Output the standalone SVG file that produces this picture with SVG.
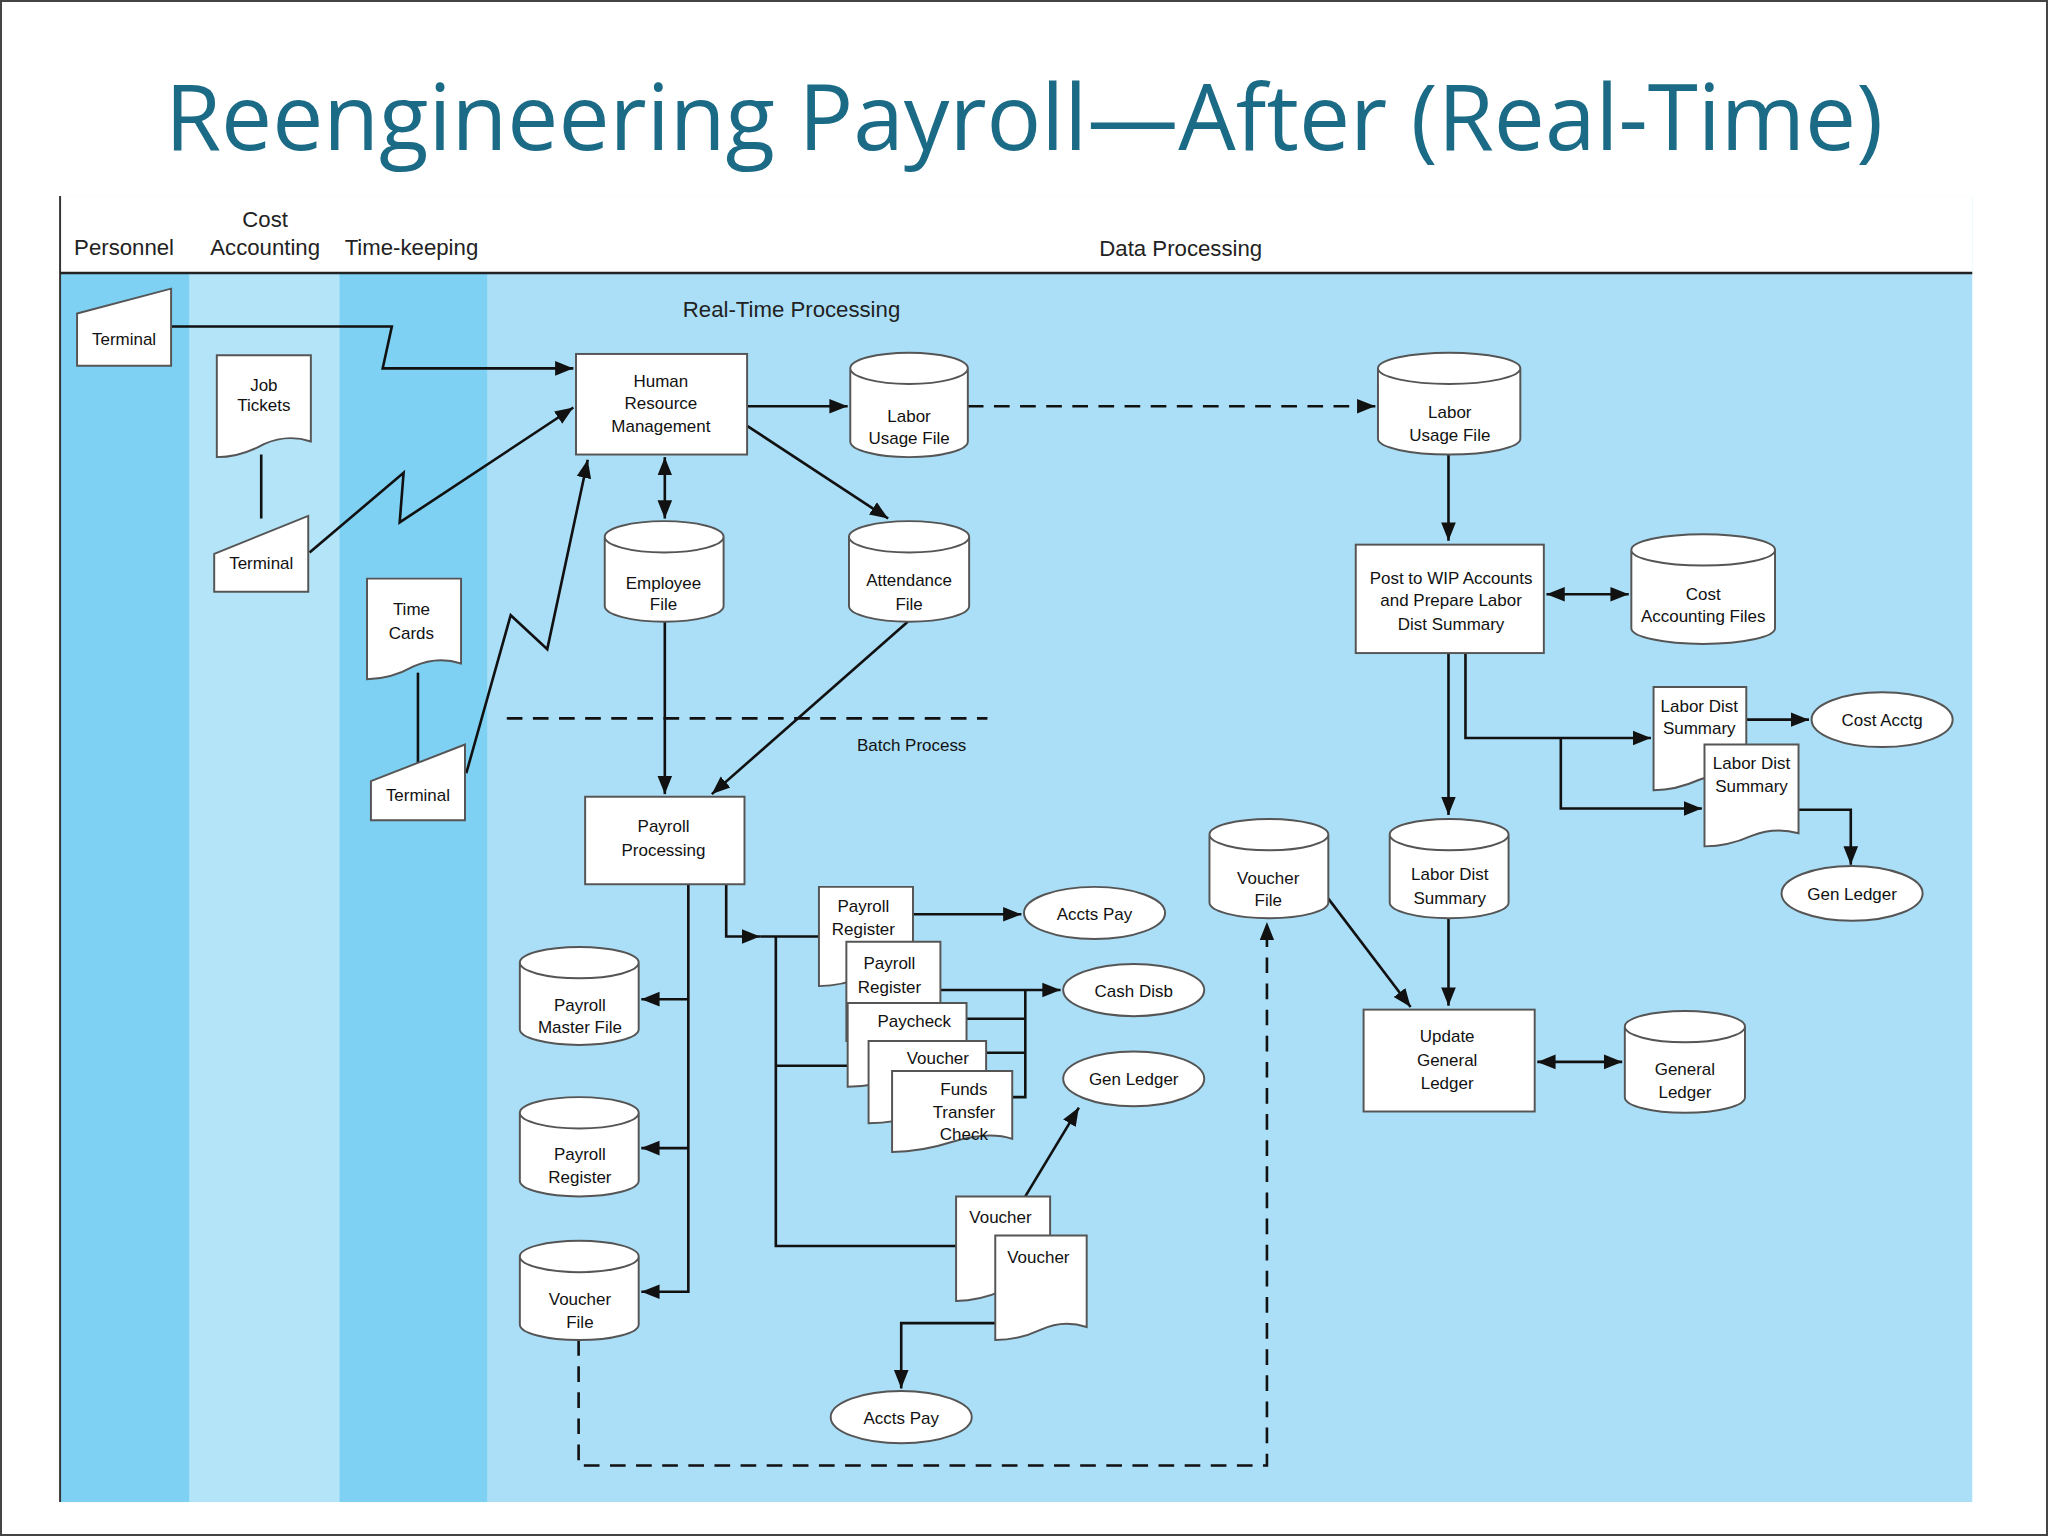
<svg xmlns="http://www.w3.org/2000/svg" width="2048" height="1536" viewBox="0 0 2048 1536">
<defs>
<marker id="a" viewBox="0 0 10 10" refX="10" refY="5" markerWidth="7" markerHeight="7" orient="auto-start-reverse"><path d="M0,1 L10,5 L0,9 z" fill="#111"/></marker>
<style>
text{font-family:"Liberation Sans",Arial,sans-serif;fill:#111}
.t{font-size:13px;text-anchor:middle}
.h{font-size:17px;text-anchor:middle;fill:#222}
.s{fill:#fff;stroke:#555;stroke-width:1.5}
.c{fill:none;stroke:#111;stroke-width:2}
.ar{marker-end:url(#a)}
.bi{marker-start:url(#a);marker-end:url(#a)}
.d{stroke-dasharray:12 8}
</style>
</defs>
<rect x="1" y="1" width="2046" height="1534" fill="#fff" stroke="#444" stroke-width="2"/>
<text x="1024" y="150" font-size="91" text-anchor="middle" style="fill:#1b6a86;font-family:'Open Sans','Liberation Sans',sans-serif">Reengineering Payroll—After (Real-Time)</text>
<g transform="scale(1.30612)">
<rect x="46" y="150" width="1464" height="1000" fill="#abdff7"/>
<rect x="46" y="150" width="1464" height="59" fill="#fff"/>
<rect x="46" y="209" width="99" height="941" fill="#7fd1f3"/>
<rect x="145" y="209" width="115" height="941" fill="#b3e4f8"/>
<rect x="260" y="209" width="113" height="941" fill="#7fd1f3"/>
<line x1="46" y1="150" x2="46" y2="1150" stroke="#333" stroke-width="1.5"/>
<line x1="46" y1="209" x2="1510" y2="209" stroke="#222" stroke-width="2"/>
<text class="h" x="95" y="195">Personnel</text>
<text class="h" x="203" y="174">Cost</text>
<text class="h" x="203" y="195">Accounting</text>
<text class="h" x="315" y="195">Time-keeping</text>
<text class="h" x="904" y="196">Data Processing</text>
<text class="h" x="606" y="243">Real-Time Processing</text>
<line x1="388" y1="550" x2="756" y2="550" class="c d"/>
<text class="t" x="698" y="575">Batch Process</text>

<g id="connectors">
<polyline class="c ar" points="131,250 300,250 293,282 439,282"/>
<polyline class="c ar" points="237,423 309,362 306,400 439,312"/>
<polyline class="c ar" points="357,592 391,471 419,497 450,352"/>
<line class="c" x1="200" y1="348" x2="200" y2="397"/>
<line class="c" x1="320" y1="515" x2="320" y2="585"/>
<line class="c ar" x1="572" y1="311" x2="649" y2="311"/>
<line class="c ar d" x1="741" y1="311" x2="1053" y2="311"/>
<line class="c bi" x1="509" y1="350" x2="509" y2="397"/>
<line class="c ar" x1="572" y1="326" x2="680" y2="397"/>
<line class="c ar" x1="509" y1="476" x2="509" y2="608"/>
<line class="c ar" x1="695" y1="476" x2="545" y2="608"/>
<polyline class="c" points="527,677 527,990"/>
<line class="c ar" x1="527" y1="765" x2="491" y2="765"/>
<line class="c ar" x1="527" y1="879" x2="491" y2="879"/>
<line class="c ar" x1="527" y1="989" x2="491" y2="989"/>
<polyline class="c ar" points="556,677 556,717 582,717"/>
<polyline class="c" points="582,717 627,717"/>
<polyline class="c" points="594,717 594,954 732,954"/>
<line class="c" x1="594" y1="816" x2="665" y2="816"/>
<line class="c ar" x1="699" y1="700" x2="782" y2="700"/>
<line class="c ar" x1="720" y1="758" x2="812" y2="758"/>
<polyline class="c" points="740,780 785,780"/>
<polyline class="c" points="755,806 785,806"/>
<polyline class="c" points="775,840 785,840 785,758"/>
<line class="c ar" x1="785" y1="916" x2="826" y2="848"/>
<polyline class="c ar" points="762,1013 690,1013 690,1063"/>
<polyline class="c ar d" points="443,1026 443,1122 970,1122 970,706"/>
<line class="c ar" x1="1017" y1="688" x2="1080" y2="771"/>
<line class="c ar" x1="1109" y1="348" x2="1109" y2="414"/>
<line class="c bi" x1="1184" y1="455" x2="1247" y2="455"/>
<line class="c ar" x1="1109" y1="500" x2="1109" y2="624"/>
<polyline class="c ar" points="1122,500 1122,565 1264,565"/>
<polyline class="c ar" points="1195,565 1195,619 1303,619"/>
<line class="c ar" x1="1337" y1="551" x2="1385" y2="551"/>
<polyline class="c ar" points="1377,620 1417,620 1417,662"/>
<line class="c ar" x1="1109" y1="703" x2="1109" y2="770"/>
<line class="c bi" x1="1177" y1="813" x2="1242" y2="813"/>
</g>

<g id="term1"><path class="s" d="M59,240 L131,221 L131,280 L59,280 z"/><text class="t" x="95" y="264">Terminal</text></g>
<g id="jobtickets"><path class="s" d="M166,272 H238 V338 Q220,332 202,340 Q184,350 166,350 z"/><text class="t" x="202" y="299">Job</text><text class="t" x="202" y="315">Tickets</text></g>
<g id="term2"><path class="s" d="M164,424 L236,395 L236,453 L164,453 z"/><text class="t" x="200" y="436">Terminal</text></g>
<g id="timecards"><path class="s" d="M281,443 H353 V508 Q335,502 317,510 Q299,520 281,520 z"/><text class="t" x="315" y="471">Time</text><text class="t" x="315" y="489">Cards</text></g>
<g id="term3"><path class="s" d="M284,598 L356,570 L356,628 L284,628 z"/><text class="t" x="320" y="613">Terminal</text></g>
<g id="hrm"><rect class="s" x="441" y="271" width="131" height="77"/><text class="t" x="506" y="296">Human</text><text class="t" x="506" y="313">Resource</text><text class="t" x="506" y="331">Management</text></g>
<g id="laborusage1"><path class="s" d="M651,282 V338 A45,12 0 0 0 741,338 V282 A45,12 0 0 0 651,282 A45,12 0 0 0 741,282"/><text class="t" x="696" y="323">Labor</text><text class="t" x="696" y="340">Usage File</text></g>
<g id="employee"><path class="s" d="M463,411 V464 A45.5,12 0 0 0 554,464 V411 A45.5,12 0 0 0 463,411 A45.5,12 0 0 0 554,411"/><text class="t" x="508" y="451">Employee</text><text class="t" x="508" y="467">File</text></g>
<g id="attendance"><path class="s" d="M650,411 V464 A46,12 0 0 0 742,464 V411 A46,12 0 0 0 650,411 A46,12 0 0 0 742,411"/><text class="t" x="696" y="449">Attendance</text><text class="t" x="696" y="467">File</text></g>
<g id="payrollproc"><rect class="s" x="448" y="610" width="122" height="67"/><text class="t" x="508" y="637">Payroll</text><text class="t" x="508" y="655">Processing</text></g>
<g id="masterfile"><path class="s" d="M398,737 V788 A45.5,12 0 0 0 489,788 V737 A45.5,12 0 0 0 398,737 A45.5,12 0 0 0 489,737"/><text class="t" x="444" y="774">Payroll</text><text class="t" x="444" y="791">Master File</text></g>
<g id="regfile"><path class="s" d="M398,852 V904 A45.5,12 0 0 0 489,904 V852 A45.5,12 0 0 0 398,852 A45.5,12 0 0 0 489,852"/><text class="t" x="444" y="888">Payroll</text><text class="t" x="444" y="906">Register</text></g>
<g id="voucherfile1"><path class="s" d="M398,962 V1014 A45.5,12 0 0 0 489,1014 V962 A45.5,12 0 0 0 398,962 A45.5,12 0 0 0 489,962"/><text class="t" x="444" y="999">Voucher</text><text class="t" x="444" y="1017">File</text></g>
<g id="preg1"><path class="s" d="M627,679 H699 V745 Q681,739 663,747 Q645,755 627,755 z"/><text class="t" x="661" y="698">Payroll</text><text class="t" x="661" y="716">Register</text></g>
<g id="preg2"><path class="s" d="M648,721 H720 V787 Q702,781 684,789 Q666,797 648,797 z"/><text class="t" x="681" y="742">Payroll</text><text class="t" x="681" y="760">Register</text></g>
<g id="paycheck"><path class="s" d="M649,768 H740 V822 Q722,816 695,824 Q670,832 649,832 z"/><text class="t" x="700" y="786">Paycheck</text></g>
<g id="voucherdoc"><path class="s" d="M665,797 H755 V850 Q737,844 710,852 Q685,860 665,860 z"/><text class="t" x="718" y="815">Voucher</text></g>
<g id="funds"><path class="s" d="M683,820 H775 V872 Q757,866 730,874 Q705,882 683,882 z"/><text class="t" x="738" y="838">Funds</text><text class="t" x="738" y="856">Transfer</text><text class="t" x="738" y="873">Check</text></g>
<g id="acctspay1"><ellipse class="s" cx="838" cy="699" rx="54" ry="20"/><text class="t" x="838" y="704">Accts Pay</text></g>
<g id="cashdisb"><ellipse class="s" cx="868" cy="758" rx="54" ry="20"/><text class="t" x="868" y="763">Cash Disb</text></g>
<g id="genledger1"><ellipse class="s" cx="868" cy="826" rx="54" ry="21"/><text class="t" x="868" y="831">Gen Ledger</text></g>
<g id="voucher2"><path class="s" d="M732,916 H804 V986 Q786,980 768,988 Q750,996 732,996 z"/><text class="t" x="766" y="936">Voucher</text></g>
<g id="voucher3"><path class="s" d="M762,946 H832 V1016 Q814,1010 797,1018 Q780,1026 762,1026 z"/><text class="t" x="795" y="967">Voucher</text></g>
<g id="acctspay2"><ellipse class="s" cx="690" cy="1085" rx="54" ry="20"/><text class="t" x="690" y="1090">Accts Pay</text></g>
<g id="voucherfile2"><path class="s" d="M926,639 V691 A45.5,12 0 0 0 1017,691 V639 A45.5,12 0 0 0 926,639 A45.5,12 0 0 0 1017,639"/><text class="t" x="971" y="677">Voucher</text><text class="t" x="971" y="694">File</text></g>
<g id="laborusage2"><path class="s" d="M1055,282 V336 A54.5,12 0 0 0 1164,336 V282 A54.5,12 0 0 0 1055,282 A54.5,12 0 0 0 1164,282"/><text class="t" x="1110" y="320">Labor</text><text class="t" x="1110" y="338">Usage File</text></g>
<g id="postwip"><rect class="s" x="1038" y="417" width="144" height="83"/><text class="t" x="1111" y="447">Post to WIP Accounts</text><text class="t" x="1111" y="464">and Prepare Labor</text><text class="t" x="1111" y="482">Dist Summary</text></g>
<g id="costfiles"><path class="s" d="M1249,421 V481 A55,12 0 0 0 1359,481 V421 A55,12 0 0 0 1249,421 A55,12 0 0 0 1359,421"/><text class="t" x="1304" y="459">Cost</text><text class="t" x="1304" y="476">Accounting Files</text></g>
<g id="ldsdoc1"><path class="s" d="M1266,526 H1337 V595 Q1319,590 1301,597 Q1283,605 1266,605 z"/><text class="t" x="1301" y="545">Labor Dist</text><text class="t" x="1301" y="562">Summary</text></g>
<g id="ldsdoc2"><path class="s" d="M1305,570 H1377 V638 Q1359,633 1341,640 Q1323,648 1305,648 z"/><text class="t" x="1341" y="589">Labor Dist</text><text class="t" x="1341" y="606">Summary</text></g>
<g id="costacctg"><ellipse class="s" cx="1441" cy="551" rx="54" ry="21"/><text class="t" x="1441" y="556">Cost Acctg</text></g>
<g id="genledger2"><ellipse class="s" cx="1418" cy="684" rx="54" ry="21"/><text class="t" x="1418" y="689">Gen Ledger</text></g>
<g id="ldscyl"><path class="s" d="M1064,639 V691 A45.5,12 0 0 0 1155,691 V639 A45.5,12 0 0 0 1064,639 A45.5,12 0 0 0 1155,639"/><text class="t" x="1110" y="674">Labor Dist</text><text class="t" x="1110" y="692">Summary</text></g>
<g id="updategl"><rect class="s" x="1044" y="773" width="131" height="78"/><text class="t" x="1108" y="798">Update</text><text class="t" x="1108" y="816">General</text><text class="t" x="1108" y="834">Ledger</text></g>
<g id="generalledger"><path class="s" d="M1244,786 V840 A46,12 0 0 0 1336,840 V786 A46,12 0 0 0 1244,786 A46,12 0 0 0 1336,786"/><text class="t" x="1290" y="823">General</text><text class="t" x="1290" y="841">Ledger</text></g>
</g>
</svg>
